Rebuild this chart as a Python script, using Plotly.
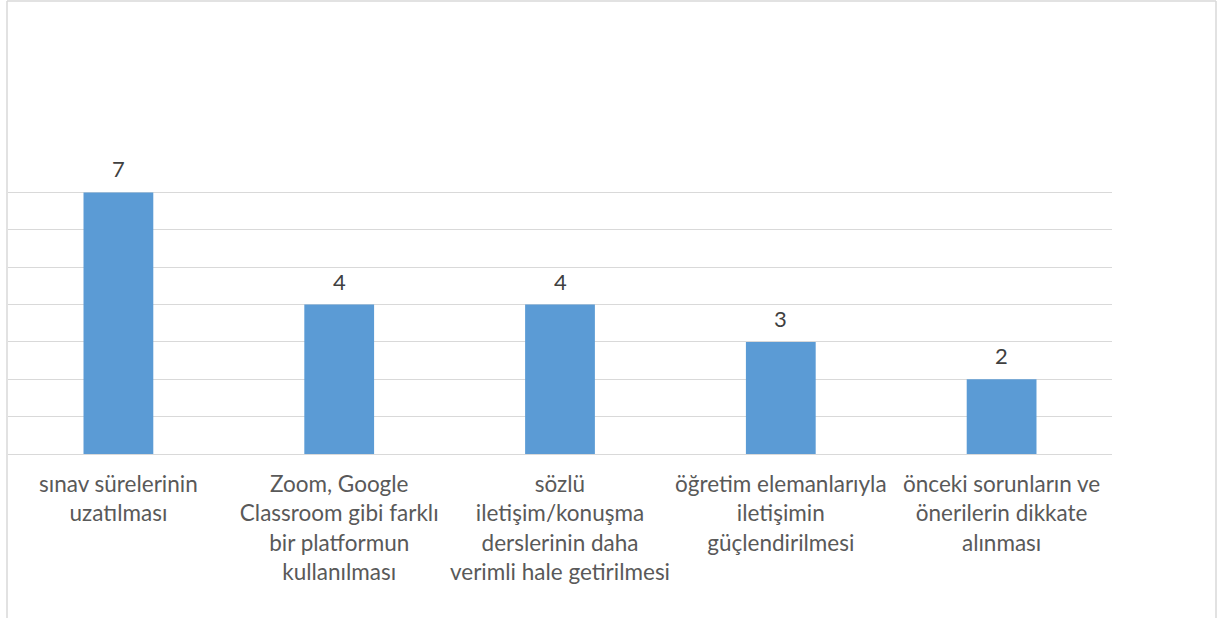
import plotly.graph_objects as go

categories = [
    "sınav sürelerinin<br>uzatılması",
    "Zoom, Google<br>Classroom gibi farklı<br>bir platformun<br>kullanılması",
    "sözlü<br>iletişim/konuşma<br>derslerinin daha<br>verimli hale getirilmesi",
    "öğretim elemanlarıyla<br>iletişimin<br>güçlendirilmesi",
    "önceki sorunların ve<br>önerilerin dikkate<br>alınması",
]
values = [7, 4, 4, 3, 2]

W, H = 1217, 618
ml, mr, mt, mb = 8, 105, 155, 164
pw = W - ml - mr
ph = H - mt - mb
FONT = "Lato, Carlito, sans-serif"

fig = go.Figure(go.Bar(
    x=categories, y=values,
    marker=dict(color="#5b9bd5", line=dict(width=0)),
    width=0.316,
    hoverinfo="skip",
))

for c, v in zip(categories, values):
    fig.add_annotation(x=c, y=v, text=str(v), showarrow=False,
                       yanchor="bottom", yshift=8,
                       font=dict(family=FONT, size=22, color="#404040"))

fig.update_layout(
    width=W, height=H,
    margin=dict(l=ml, r=mr, t=mt, b=mb),
    paper_bgcolor="white", plot_bgcolor="white",
    showlegend=False,
    font=dict(family=FONT, color="#595959"),
)
fig.update_yaxes(range=[0, 8], dtick=1, showticklabels=False,
                 showgrid=True, gridcolor="#d9d9d9", gridwidth=1.3,
                 zeroline=False, showline=False)
fig.update_xaxes(showgrid=False, showline=True, linecolor="#d9d9d9", linewidth=1.3,
                 ticks="", tickangle=0, ticklabelstandoff=10,
                 tickfont=dict(family=FONT, size=22.5, color="#595959"))

# outer chart-area border (left, top, right)
x_left = (7 - ml) / pw
x_right = (1216 - ml) / pw
y_top = (H - 1 - mb) / ph
y_bot = (0 - mb) / ph
for x0, y0, x1, y1 in [(x_left, y_bot, x_left, y_top), (x_left, y_top, x_right, y_top),
                       (x_right, y_top, x_right, y_bot)]:
    fig.add_shape(type="line", xref="paper", yref="paper", x0=x0, y0=y0, x1=x1, y1=y1,
                  line=dict(color="#d9d9d9", width=1.5))

fig.write_html("out.html", config={"displayModeBar": False},
               post_script="document.body.style.margin='0';")
